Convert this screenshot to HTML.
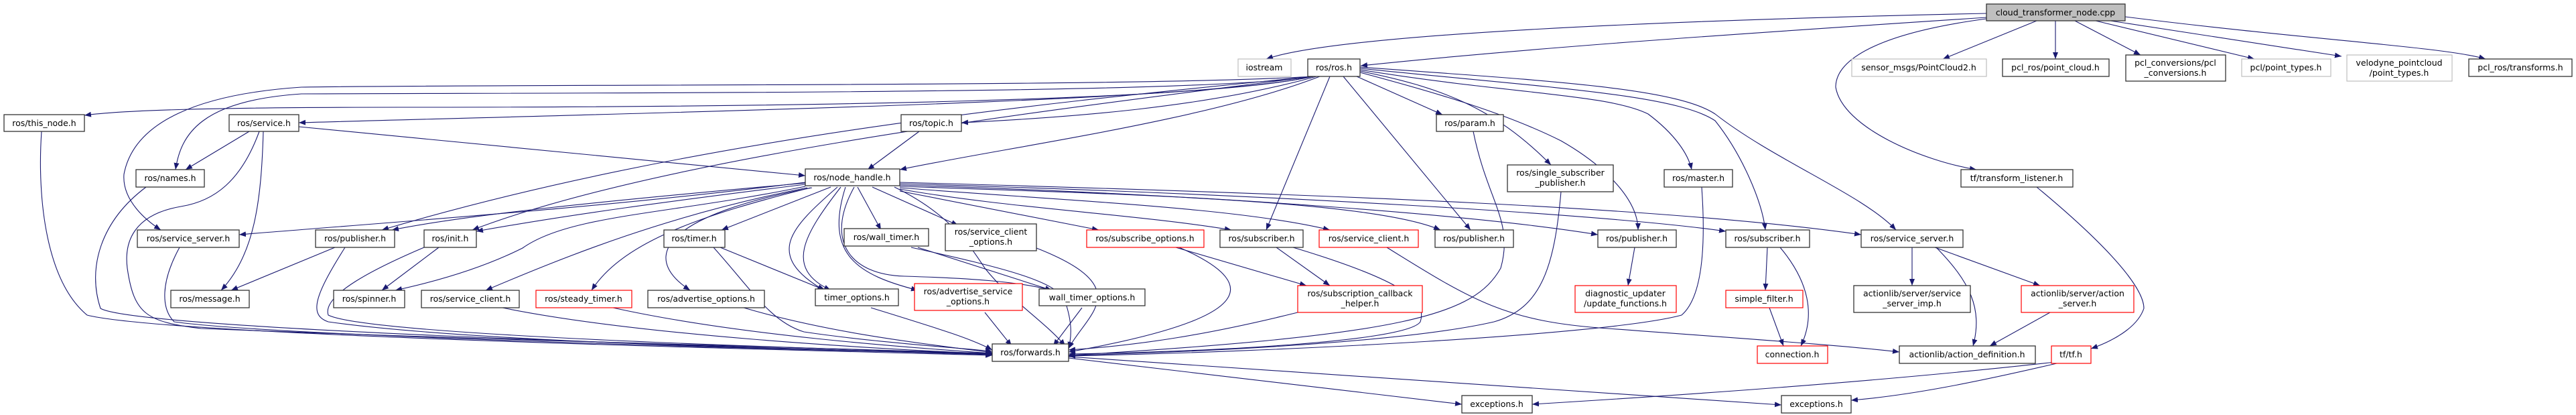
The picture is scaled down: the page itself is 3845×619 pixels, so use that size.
<!DOCTYPE html>
<html><head><meta charset="utf-8"><style>
html,body{margin:0;padding:0;background:#fff;}
svg{display:block;}
text{font-family:"DejaVu Sans","Liberation Sans",sans-serif;font-size:12.5px;fill:#000;}
.n{fill:#fff;stroke:#333;stroke-width:1.3;}
.r{fill:#fff;stroke:#f00;stroke-width:1.2;}
.g{fill:#fff;stroke:#bfbfbf;stroke-width:1.2;}
.e{fill:none;stroke:#191970;stroke-width:1.1;marker-end:url(#a);}
</style></head><body>
<svg width="3845" height="619" viewBox="0 0 3845 619" xmlns="http://www.w3.org/2000/svg">
<defs><marker id="a" markerUnits="userSpaceOnUse" markerWidth="11" markerHeight="8" refX="10" refY="4" orient="auto"><path d="M0,0 L10,4 L0,8 z" fill="#191970"/></marker></defs>
<g>
<path class="e" d="M2965,20 C2500,30 2000,50 1890,88"/>
<path class="e" d="M2965,26 C2600,50 2300,70 2031,98"/>
<path class="e" d="M3040,31 L2900,88"/>
<path class="e" d="M3068,31 L3068,88"/>
<path class="e" d="M3097,31 L3195,82"/>
<path class="e" d="M3128,31 L3365,88"/>
<path class="e" d="M3150,31 L3495,84"/>
<path class="e" d="M3172,25 C3450,60 3650,70 3710,88"/>
<path class="e" d="M2965,28 C2800,50 2740,90 2740,130 C2750,190 2870,240 2950,253"/>
<path class="e" d="M1960,114 C1800,150 1200,160 600,160 C300,160 180,165 126,172"/>
<path class="e" d="M1960,114 C1800,140 1000,138 450,140 C300,150 270,200 262,253"/>
<path class="e" d="M1960,114 C1800,150 1100,165 446,183"/>
<path class="e" d="M1960,114 C1700,130 800,125 450,130 C300,140 200,180 185,260 C182,300 220,330 240,343"/>
<path class="e" d="M1960,114 C1600,150 1050,200 570,343"/>
<path class="e" d="M1960,114 C1600,160 1000,230 705,343"/>
<path class="e" d="M1965,114 C1800,160 1600,175 1435,183"/>
<path class="e" d="M1970,114 C1800,180 1500,220 1343,253"/>
<path class="e" d="M1985,114 L1890,343"/>
<path class="e" d="M2005,114 L2195,343"/>
<path class="e" d="M2025,114 L2153,171"/>
<path class="e" d="M2030,106 C2150,130 2230,160 2315,246"/>
<path class="e" d="M2030,108 C2150,140 2250,170 2330,210 C2400,250 2445,300 2445,343"/>
<path class="e" d="M2030,104 C2250,140 2400,140 2460,170 C2500,200 2520,230 2525,253"/>
<path class="e" d="M2030,102 C2300,130 2500,140 2560,180 C2600,230 2630,300 2635,343"/>
<path class="e" d="M2030,100 C2300,120 2500,130 2560,170 C2650,240 2780,290 2830,343"/>
<path class="e" d="M372,196 L277,253"/>
<path class="e" d="M446,189 L1202,262"/>
<path class="e" d="M393,196 C390,300 380,380 330,433"/>
<path class="e" d="M387,196 C360,270 320,300 270,308 C200,320 185,360 190,400 C200,470 220,480 300,490 C800,510 1300,520 1481,528"/>
<path class="e" d="M62,196 C55,300 70,420 130,470 C250,500 1100,520 1481,530"/>
<path class="e" d="M218,279 C150,330 130,400 150,460 C200,490 1000,515 1481,529"/>
<path class="e" d="M268,369 C240,420 240,460 260,480 C400,500 1100,520 1481,528"/>
<path class="e" d="M500,369 L345,433"/>
<path class="e" d="M515,369 C470,440 460,470 490,480 C700,510 1200,522 1481,527"/>
<path class="e" d="M655,369 L570,433"/>
<path class="e" d="M633,369 C560,400 480,440 490,470 C550,500 1200,520 1481,527"/>
<path class="e" d="M1202,272 C900,310 600,330 357,350"/>
<path class="e" d="M1202,273 C900,300 700,320 585,343"/>
<path class="e" d="M1202,275 C1000,300 850,320 711,345"/>
<path class="e" d="M1202,278 C1000,320 850,320 780,370 C720,400 650,420 590,433"/>
<path class="e" d="M1205,280 C1000,320 850,380 725,433"/>
<path class="e" d="M1210,280 C1050,320 930,360 883,433"/>
<path class="e" d="M1212,280 C1000,320 950,380 1030,433"/>
<path class="e" d="M1240,279 L1077,343"/>
<path class="e" d="M1250,279 C1180,340 1140,380 1230,433"/>
<path class="e" d="M1255,279 C1200,350 1170,400 1240,433"/>
<path class="e" d="M1262,279 C1230,380 1280,410 1370,433"/>
<path class="e" d="M1280,279 L1315,343"/>
<path class="e" d="M1275,279 C1230,360 1270,410 1350,412 C1450,415 1520,420 1570,433"/>
<path class="e" d="M1302,279 L1430,336"/>
<path class="e" d="M1335,279 C1420,320 1450,370 1470,400 C1510,450 1560,480 1590,516"/>
<path class="e" d="M1343,285 L1640,343"/>
<path class="e" d="M1343,282 C1500,310 1700,320 1838,343"/>
<path class="e" d="M1343,280 C1600,300 1850,310 1985,343"/>
<path class="e" d="M1343,278 C1700,290 2050,300 2150,343"/>
<path class="e" d="M1343,276 C1800,290 2200,320 2385,350"/>
<path class="e" d="M1343,272 C2000,290 2500,310 2778,350"/>
<path class="e" d="M1343,274 C1900,290 2400,320 2576,345"/>
<path class="e" d="M1372,196 L1295,253"/>
<path class="e" d="M1370,369 L1570,433"/>
<path class="e" d="M1360,369 C1500,400 1580,420 1590,450 C1600,480 1600,500 1595,520"/>
<path class="e" d="M1547,370 C1700,430 1620,470 1595,520"/>
<path class="e" d="M1755,369 L1950,426"/>
<path class="e" d="M1760,369 C1900,430 1850,480 1595,525"/>
<path class="e" d="M1905,369 L1985,426"/>
<path class="e" d="M1930,369 C2100,420 2130,450 2120,480 C2100,510 1800,525 1595,528"/>
<path class="e" d="M2070,369 C2200,450 2250,480 2400,490 C2600,505 2750,515 2835,525"/>
<path class="e" d="M2199,196 C2220,300 2260,330 2240,400 C2200,470 2100,500 1595,530"/>
<path class="e" d="M2330,286 C2320,400 2300,460 2230,480 C2100,510 1800,525 1595,530"/>
<path class="e" d="M2540,279 C2545,350 2545,440 2510,470 C2400,500 1900,525 1595,531"/>
<path class="e" d="M2440,369 L2430,426"/>
<path class="e" d="M1937,466 C1800,500 1700,515 1595,522"/>
<path class="e" d="M1470,466 L1510,516"/>
<path class="e" d="M1615,459 L1572,516"/>
<path class="e" d="M1300,459 C1400,490 1450,505 1481,522"/>
<path class="e" d="M1075,369 L1232,433"/>
<path class="e" d="M1065,369 C1120,430 1150,480 1200,495 C1300,510 1420,518 1481,524"/>
<path class="e" d="M1110,459 C1250,500 1400,515 1481,526"/>
<path class="e" d="M915,459 C1100,500 1350,518 1481,527"/>
<path class="e" d="M750,459 C950,500 1300,520 1481,528"/>
<path class="e" d="M1595,534 L2182,603"/>
<path class="e" d="M1595,532 C2000,560 2400,585 2659,604"/>
<path class="e" d="M3068,540 C2800,570 2500,590 2287,603"/>
<path class="e" d="M3070,542 C2950,570 2850,590 2763,597"/>
<path class="e" d="M3040,279 C3150,370 3200,430 3200,460 C3190,490 3150,510 3121,520"/>
<path class="e" d="M2638,369 L2635,433"/>
<path class="e" d="M2657,369 C2700,420 2710,470 2688,516"/>
<path class="e" d="M2641,459 L2662,516"/>
<path class="e" d="M2854,369 L2854,426"/>
<path class="e" d="M2888,369 L3045,426"/>
<path class="e" d="M2890,369 C2940,420 2960,460 2945,516"/>
<path class="e" d="M3060,466 L2970,516"/>
</g>
<g text-anchor="middle">
<rect x="2965" y="6" width="207" height="25" fill="#bfbfbf" stroke="#333" stroke-width="1.3"/><text x="3068" y="23">cloud_transformer_node.cpp</text>
<rect class="g" x="1848" y="88" width="79" height="26"/><text x="1887" y="105">iostream</text>
<rect class="n" x="1952" y="88" width="78" height="26"/><text x="1991" y="105">ros/ros.h</text>
<rect class="g" x="2764" y="88" width="201" height="26"/><text x="2864" y="105">sensor_msgs/PointCloud2.h</text>
<rect class="n" x="2989" y="88" width="159" height="26"/><text x="3068" y="105">pcl_ros/point_cloud.h</text>
<rect class="n" x="3173" y="82" width="149" height="39"/><text x="3247" y="98">pcl_conversions/pcl</text><text x="3247" y="113">_conversions.h</text>
<rect class="g" x="3346" y="88" width="133" height="26"/><text x="3412" y="105">pcl/point_types.h</text>
<rect class="g" x="3503" y="82" width="157" height="39"/><text x="3581" y="98">velodyne_pointcloud</text><text x="3581" y="113">/point_types.h</text>
<rect class="n" x="3685" y="88" width="154" height="26"/><text x="3762" y="105">pcl_ros/transforms.h</text>
<rect class="n" x="6" y="171" width="120" height="25"/><text x="66" y="188">ros/this_node.h</text>
<rect class="n" x="342" y="171" width="104" height="25"/><text x="394" y="188">ros/service.h</text>
<rect class="n" x="1345" y="171" width="90" height="25"/><text x="1390" y="188">ros/topic.h</text>
<rect class="n" x="2144" y="171" width="100" height="25"/><text x="2194" y="188">ros/param.h</text>
<rect class="n" x="203" y="253" width="102" height="26"/><text x="254" y="270">ros/names.h</text>
<rect class="n" x="1202" y="252" width="141" height="25"/><text x="1272" y="269">ros/node_handle.h</text>
<rect class="n" x="2250" y="246" width="158" height="40"/><text x="2329" y="262">ros/single_subscriber</text><text x="2329" y="277">_publisher.h</text>
<rect class="n" x="2484" y="253" width="102" height="26"/><text x="2535" y="270">ros/master.h</text>
<rect class="n" x="2927" y="253" width="167" height="26"/><text x="3010" y="270">tf/transform_listener.h</text>
<rect class="n" x="205" y="343" width="152" height="26"/><text x="281" y="360">ros/service_server.h</text>
<rect class="n" x="471" y="343" width="118" height="26"/><text x="530" y="360">ros/publisher.h</text>
<rect class="n" x="633" y="343" width="78" height="26"/><text x="672" y="360">ros/init.h</text>
<rect class="n" x="991" y="343" width="91" height="26"/><text x="1036" y="360">ros/timer.h</text>
<rect class="n" x="1260" y="341" width="126" height="26"/><text x="1323" y="358">ros/wall_timer.h</text>
<rect class="n" x="1411" y="334" width="136" height="40"/><text x="1479" y="350">ros/service_client</text><text x="1479" y="365">_options.h</text>
<rect class="r" x="1622" y="343" width="175" height="26"/><text x="1709" y="360">ros/subscribe_options.h</text>
<rect class="n" x="1821" y="343" width="124" height="26"/><text x="1883" y="360">ros/subscriber.h</text>
<rect class="r" x="1969" y="343" width="148" height="26"/><text x="2043" y="360">ros/service_client.h</text>
<rect class="n" x="2142" y="343" width="117" height="26"/><text x="2200" y="360">ros/publisher.h</text>
<rect class="n" x="2385" y="343" width="117" height="26"/><text x="2443" y="360">ros/publisher.h</text>
<rect class="n" x="2576" y="343" width="125" height="26"/><text x="2638" y="360">ros/subscriber.h</text>
<rect class="n" x="2778" y="343" width="152" height="26"/><text x="2854" y="360">ros/service_server.h</text>
<rect class="n" x="255" y="433" width="117" height="26"/><text x="313" y="450">ros/message.h</text>
<rect class="n" x="498" y="433" width="106" height="26"/><text x="551" y="450">ros/spinner.h</text>
<rect class="n" x="629" y="433" width="146" height="26"/><text x="702" y="450">ros/service_client.h</text>
<rect class="r" x="800" y="433" width="143" height="26"/><text x="871" y="450">ros/steady_timer.h</text>
<rect class="n" x="967" y="433" width="174" height="26"/><text x="1054" y="450">ros/advertise_options.h</text>
<rect class="n" x="1217" y="431" width="124" height="25"/><text x="1279" y="448">timer_options.h</text>
<rect class="r" x="1365" y="423" width="161" height="40"/><text x="1445" y="439">ros/advertise_service</text><text x="1445" y="454">_options.h</text>
<rect class="n" x="1551" y="431" width="158" height="25"/><text x="1630" y="448">wall_timer_options.h</text>
<rect class="r" x="1937" y="426" width="186" height="40"/><text x="2030" y="442">ros/subscription_callback</text><text x="2030" y="457">_helper.h</text>
<rect class="r" x="2351" y="426" width="151" height="40"/><text x="2426" y="442">diagnostic_updater</text><text x="2426" y="457">/update_functions.h</text>
<rect class="r" x="2576" y="433" width="115" height="26"/><text x="2633" y="450">simple_filter.h</text>
<rect class="n" x="2767" y="426" width="174" height="40"/><text x="2854" y="442">actionlib/server/service</text><text x="2854" y="457">_server_imp.h</text>
<rect class="r" x="3017" y="426" width="168" height="40"/><text x="3101" y="442">actionlib/server/action</text><text x="3101" y="457">_server.h</text>
<rect class="n" x="1481" y="513" width="114" height="26"/><text x="1538" y="530">ros/forwards.h</text>
<rect class="r" x="2623" y="516" width="105" height="26"/><text x="2675" y="533">connection.h</text>
<rect class="n" x="2835" y="516" width="203" height="26"/><text x="2936" y="533">actionlib/action_definition.h</text>
<rect class="r" x="3062" y="516" width="59" height="26"/><text x="3091" y="533">tf/tf.h</text>
<rect class="n" x="2182" y="590" width="105" height="26"/><text x="2234" y="607">exceptions.h</text>
<rect class="n" x="2659" y="590" width="104" height="26"/><text x="2711" y="607">exceptions.h</text>
</g>
</svg>
</body></html>
